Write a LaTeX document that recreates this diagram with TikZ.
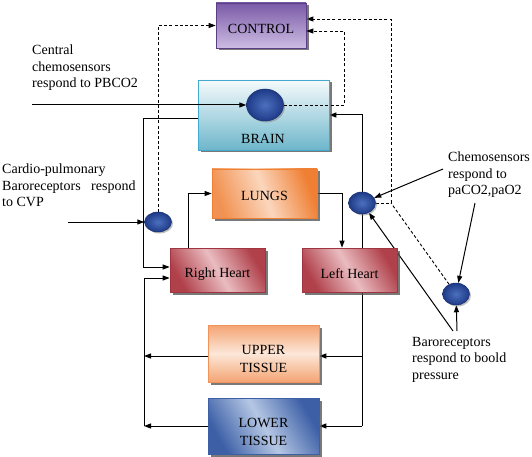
\documentclass[tikz,border=0pt]{standalone}
\usepackage{fontspec}
\setmainfont{Liberation Serif}
\usetikzlibrary{arrows.meta,shapes.geometric,shadows,backgrounds}
\definecolor{ctrlA}{HTML}{7A5AA8}
\definecolor{ctrlB}{HTML}{CDBCE2}
\definecolor{ctrlD}{HTML}{5B3F85}
\definecolor{brA}{HTML}{F6FBFC}
\definecolor{brB}{HTML}{6DB6CB}
\definecolor{brD}{HTML}{45A9CF}
\definecolor{luA}{HTML}{FBD6BC}
\definecolor{luB}{HTML}{EF7F33}
\definecolor{hrA}{HTML}{E9BCC0}
\definecolor{hrB}{HTML}{B0404A}
\definecolor{hrD}{HTML}{9E3540}
\definecolor{upA}{HTML}{FCE7D8}
\definecolor{upB}{HTML}{F2945A}
\definecolor{loA}{HTML}{B5C7E4}
\definecolor{loB}{HTML}{3C5FA6}
\definecolor{snA}{HTML}{4C70BE}
\definecolor{snB}{HTML}{1E3A88}
\definecolor{snD}{HTML}{18306E}
\begin{document}
\begin{tikzpicture}[x=1pt,y=-1pt,
  box/.style={rectangle, line width=0.7pt, inner sep=0pt,
    drop shadow={shadow xshift=2.5pt, shadow yshift=-2.5pt, fill=black!70, opacity=0.75}},
  lbl/.style={inner sep=0pt, font=\fontsize{14}{18}\selectfont, align=center},
  txt/.style={inner sep=0pt, anchor=north west, align=left, font=\fontsize{14}{16.5}\selectfont},
  sensor/.style={ellipse, draw=snD, line width=0.5pt, inner color=snA, outer color=snB, inner sep=0pt,
    drop shadow={shadow xshift=1.5pt, shadow yshift=-1.5pt, fill=black!50, opacity=0.5}},
  heart/.style={box, draw=hrD, left color=hrB, right color=hrB, middle color=hrA, shading angle=120},
  arr/.style={-{Triangle[length=7pt,width=5pt]}},
  ln/.style={line width=1pt, black},
  dsh/.style={line width=0.9pt, dash pattern=on 3pt off 2.2pt}]
\useasboundingbox (0,0) rectangle (532,457);

% boxes
\node[box, draw=ctrlD, top color=ctrlA, bottom color=ctrlB, minimum width=90pt, minimum height=45pt] (control) at (261,25.5) {};
\node[lbl] (controlt) at (261,28.5) {CONTROL};

\node[box, draw=brD, top color=brA, bottom color=brB, minimum width=131pt, minimum height=70pt] (brain) at (263.5,115) {};
\node[lbl] (braint) at (263,139) {BRAIN};

\node[box, draw=luB, left color=luB!85, right color=luB, middle color=luA, shading angle=110, minimum width=105pt, minimum height=49pt] (lungs) at (264.5,193.5) {};
\node[lbl] (lungst) at (264.5,196) {LUNGS};

\node[heart, minimum width=95pt, minimum height=44pt] (rheart) at (217.5,270) {};
\node[lbl] (rheartt) at (217.5,274) {Right Heart};
\node[heart, minimum width=95pt, minimum height=44pt] (lheart) at (349.5,270) {};
\node[lbl] (lheartt) at (349.5,274) {Left Heart};

\node[box, draw=upB, top color=upB!85, bottom color=upB!85, middle color=upA, minimum width=111pt, minimum height=57pt] (upper) at (263.5,353.5) {};
\node[lbl] (uppert) at (263.5,359) {UPPER\\TISSUE};
\node[box, draw=loB, left color=loB, right color=loB, middle color=loA, shading angle=120, minimum width=111pt, minimum height=56pt] (lower) at (263.5,426) {};
\node[lbl] (lowert) at (263.5,431.5) {LOWER\\TISSUE};

% sensors
\node[sensor, minimum width=37pt, minimum height=32pt] (bsens) at (265,105) {};
\node[sensor, minimum width=27pt, minimum height=20pt] (lsens) at (158,222) {};
\node[sensor, minimum width=27pt, minimum height=22pt] (rsens) at (362,203) {};
\node[sensor, minimum width=27pt, minimum height=22pt] (bsens2) at (456,294) {};

% texts
\node[txt] (cctxt) at (32,45) {Central\\chemosensors\\respond to PBCO2};
\node[txt] (cvptxt) at (2,164) {Cardio-pulmonary\\Baroreceptors\ \ \ respond\\to CVP};
\node[txt] (chemtxt) at (448,152) {Chemosensors\\respond to\\paCO2,paO2};
\node[txt] (barotxt) at (412,337) {Baroreceptors\\respond to boold\\pressure};

% coordinates
\coordinate (cin) at (32,105);
\coordinate (cvpin) at (68,222);
\coordinate (abot) at (362,426);
\coordinate (lbot) at (144,426);
\coordinate (cj) at (391,203);
\coordinate (cbr) at (344,31);
\coordinate (chemA) at (443,169);
\coordinate (chemB) at (475,203);
\coordinate (baroA) at (453,331);
\coordinate (baroB) at (457,331);
\coordinate (uE) at ([yshift=-2.5pt]upper.east);
\coordinate (uW) at ([yshift=-2.5pt]upper.west);

\begin{pgfonlayer}{background}
\draw[ln,arr] (abot) |- (brain.east);
\draw[ln,arr] (uE -| abot) -- (uE);
\draw[ln,arr] (abot) -- (lower.east);
\draw[ln,arr] (uW) -- (uW -| lbot);
\draw[ln,arr] (lower.west) -- (lbot);
\draw[ln,arr] (lbot) |- ([yshift=-8pt]rheart.west);
\draw[ln,arr] ([yshift=-4pt]brain.west) -- ++(-54,0) |- ([yshift=3pt]rheart.west);
\draw[ln,arr] ([xshift=-29.5pt]rheart.north) |- (lungs.west);
\draw[ln,arr] (lungs.east) -| ([xshift=-7.5pt]lheart.north);
\draw[ln,arr] (cvpin) -- (lsens.west);
\draw[dsh,arr] (lsens.north) |- (control.west);
\draw[dsh,arr] (rsens.east) -- (cj) |- ([yshift=6.5pt]control.east);
\draw[dsh] (bsens2) -- (cj);
\draw[ln,arr] (chemA) -- (rsens);
\draw[ln,arr] (chemB) -- (bsens2);
\draw[ln,arr] (baroA) -- (rsens);
\draw[ln,arr] (baroB) -- (bsens2);
\end{pgfonlayer}

\draw[ln,arr] (cin) -- (bsens.west);
\draw[dsh,arr] (bsens.east) -| (cbr) -- ([yshift=-5.5pt]control.east);
\end{tikzpicture}
\end{document}
